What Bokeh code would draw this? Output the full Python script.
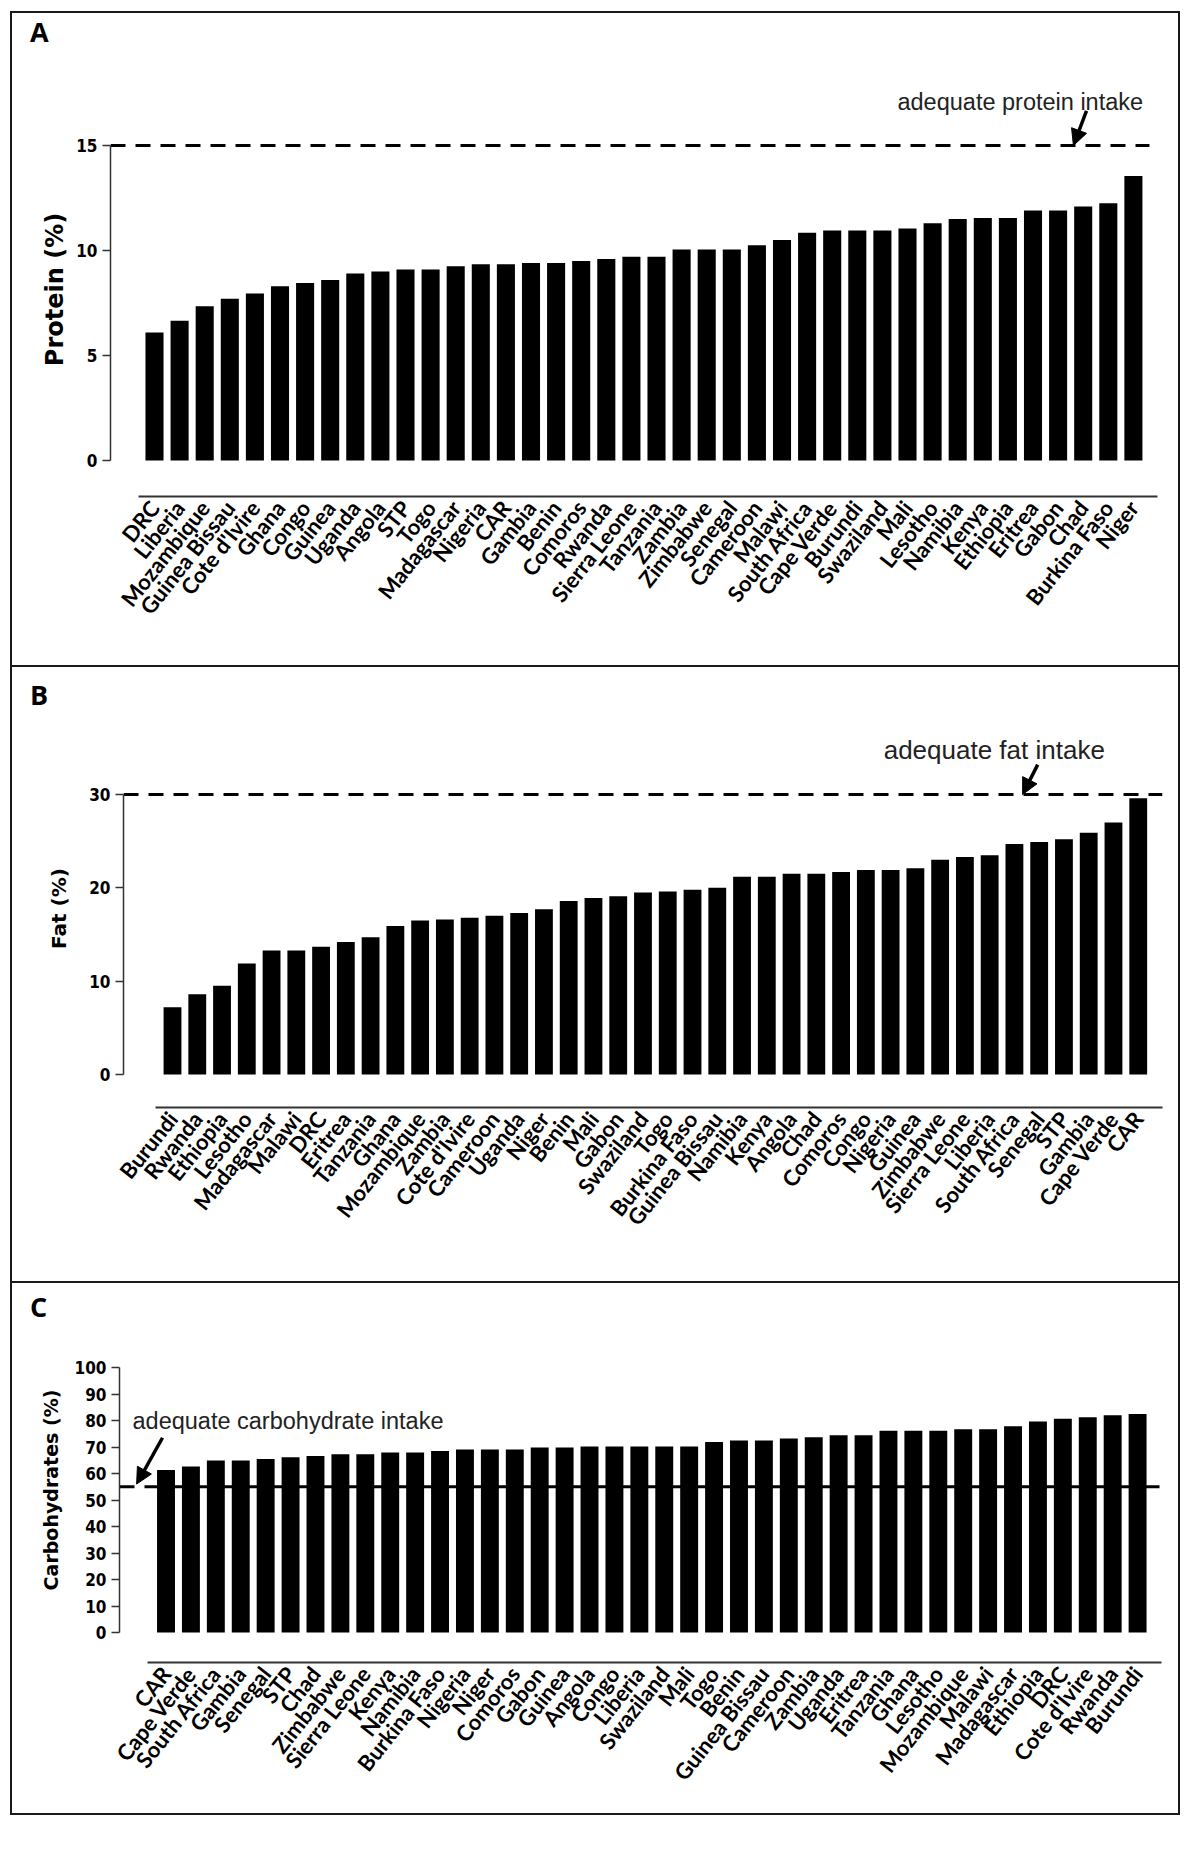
from bokeh.plotting import figure
from bokeh.models import Range1d, FixedTicker, Label, Arrow, NormalHead, ColumnDataSource, Div
from bokeh.layouts import column, row
from bokeh.embed import file_html
from bokeh.resources import INLINE

# ---------------- data ----------------
protein_countries = ["DRC", "Liberia", "Mozambique", "Guinea Bissau", "Cote d'Ivire", "Ghana", "Congo",
                     "Guinea", "Uganda", "Angola", "STP", "Togo", "Madagascar", "Nigeria", "CAR", "Gambia",
                     "Benin", "Comoros", "Rwanda", "Sierra Leone", "Tanzania", "Zambia", "Zimbabwe", "Senegal",
                     "Cameroon", "Malawi", "South Africa", "Cape Verde", "Burundi", "Swaziland", "Mali",
                     "Lesotho", "Namibia", "Kenya", "Ethiopia", "Eritrea", "Gabon", "Chad", "Burkina Faso", "Niger"]
protein_values = [6.1, 6.65, 7.35, 7.7, 7.95, 8.3, 8.45, 8.6, 8.9, 9.0, 9.1, 9.1, 9.25, 9.35, 9.35, 9.4,
                  9.4, 9.5, 9.6, 9.7, 9.7, 10.05, 10.05, 10.05, 10.25, 10.5, 10.85, 10.95, 10.95, 10.95, 11.05,
                  11.3, 11.5, 11.55, 11.55, 11.9, 11.9, 12.1, 12.25, 13.55]

fat_countries = ["Burundi", "Rwanda", "Ethiopia", "Lesotho", "Madagascar", "Malawi", "DRC", "Eritrea",
                 "Tanzania", "Ghana", "Mozambique", "Zambia", "Cote d'Ivire", "Cameroon", "Uganda", "Niger",
                 "Benin", "Mali", "Gabon", "Swaziland", "Togo", "Burkina Faso", "Guinea Bissau", "Namibia",
                 "Kenya", "Angola", "Chad", "Comoros", "Congo", "Nigeria", "Guinea", "Zimbabwe", "Sierra Leone",
                 "Liberia", "South Africa", "Senegal", "STP", "Gambia", "Cape Verde", "CAR"]
fat_values = [7.2, 8.6, 9.5, 11.9, 13.3, 13.3, 13.7, 14.2, 14.7, 15.9, 16.5, 16.6, 16.8, 17.0, 17.3, 17.7,
              18.6, 18.9, 19.1, 19.5, 19.6, 19.8, 20.0, 21.2, 21.2, 21.5, 21.5, 21.7, 21.9, 21.9, 22.1, 23.0,
              23.3, 23.5, 24.7, 24.9, 25.2, 25.9, 27.0, 29.6]

carb_countries = ["CAR", "Cape Verde", "South Africa", "Gambia", "Senegal", "STP", "Chad", "Zimbabwe",
                  "Sierra Leone", "Kenya", "Namibia", "Burkina Faso", "Nigeria", "Niger", "Comoros", "Gabon",
                  "Guinea", "Angola", "Congo", "Liberia", "Swaziland", "Mali", "Togo", "Benin", "Guinea Bissau",
                  "Cameroon", "Zambia", "Uganda", "Eritrea", "Tanzania", "Ghana", "Lesotho", "Mozambique",
                  "Malawi", "Madagascar", "Ethiopia", "DRC", "Cote d'Ivire", "Rwanda", "Burundi"]
carb_values = [61.3, 62.6, 64.9, 64.9, 65.5, 66.1, 66.6, 67.3, 67.3, 67.9, 67.9, 68.5, 69.1, 69.1, 69.1,
               69.8, 69.8, 70.2, 70.2, 70.2, 70.2, 70.2, 71.9, 72.5, 72.5, 73.2, 73.7, 74.4, 74.4, 76.1,
               76.1, 76.1, 76.7, 76.7, 77.8, 79.6, 80.7, 81.2, 82.0, 82.5]

protein_ticks = [0, 5, 10, 15]
fat_ticks = [0, 10, 20, 30]
carb_ticks = [0, 10, 20, 30, 40, 50, 60, 70, 80, 90, 100]

protein_target = 15
fat_target = 30
carb_target = 55

FRAME = "#1a1a1a"
TICK_FONT = "DejaVu Sans Condensed"
LABEL_FONT = "Lato"
LETTER_FONT = "Open Sans"
TITLE_FONT = "DejaVu Sans"
NOTE_FONT = "Liberation Sans"
W = 1166


def letter_div(letter, height, top, border=False):
    html = ('<div style="padding-left:18px; padding-top:%dpx; font-family:\'%s\'; font-weight:bold; '
            'font-size:27px; line-height:27px; color:black;">%s</div>' % (top, LETTER_FONT, letter))
    d = Div(text=html, width=W, height=height, margin=0)
    if border:
        d.styles = {"border-top": "2px solid " + FRAME}
    return d


def panel(countries, values, ticks, target, ylabel, ylabel_size, note, note_size,
          height, mb, xr, yr, xbounds, line_end, note_pos, arrow_pos, ylabel_standoff):
    p = figure(width=W, height=height, output_backend="svg", toolbar_location=None, title=None,
               x_range=Range1d(*xr), y_range=Range1d(*yr),
               min_border_left=mb[0], min_border_right=mb[1], min_border_top=mb[2], min_border_bottom=mb[3],
               background_fill_color="white", border_fill_color="white", outline_line_color=None)
    if "frame_align" in p.properties():
        p.frame_align = False
    p.xgrid.visible = False
    p.ygrid.visible = False

    src = ColumnDataSource(dict(x=list(range(len(countries))), top=values, name=countries))
    p.vbar(x="x", top="top", bottom=0, width=0.72, source=src, fill_color="black", line_color=None)

    p.segment(x0=[xr[0]], y0=[target], x1=[line_end], y1=[target], line_color="black",
              line_width=3, line_dash="15 10")

    # y axis
    ya = p.yaxis[0]
    ya.ticker = FixedTicker(ticks=ticks)
    ya.bounds = (ticks[0], ticks[-1])
    ya.axis_line_color = "#333333"
    ya.axis_line_width = 1.5
    ya.major_tick_line_color = "#333333"
    ya.major_tick_line_width = 1.5
    ya.major_tick_in = 0
    ya.major_tick_out = 8
    ya.minor_tick_in = 0
    ya.minor_tick_out = 0
    ya.major_label_standoff = 5
    ya.major_label_text_font = TICK_FONT
    ya.major_label_text_font_style = "bold"
    ya.major_label_text_font_size = "17px"
    ya.major_label_text_color = "black"
    ya.axis_label = ylabel
    ya.axis_label_text_font = TITLE_FONT
    ya.axis_label_text_font_style = "bold"
    ya.axis_label_text_font_size = ylabel_size
    ya.axis_label_text_color = "black"
    ya.axis_label_standoff = ylabel_standoff

    # x axis
    xa = p.xaxis[0]
    xa.ticker = FixedTicker(ticks=list(range(len(countries))))
    xa.major_label_overrides = {i: c for i, c in enumerate(countries)}
    xa.bounds = xbounds
    xa.axis_line_color = "#333333"
    xa.axis_line_width = 2
    xa.major_tick_in = 0
    xa.major_tick_out = 0
    xa.minor_tick_in = 0
    xa.minor_tick_out = 0
    xa.major_label_orientation = 0.9
    xa.major_label_standoff = 7
    xa.major_label_text_font = LABEL_FONT
    xa.major_label_text_font_style = "bold"
    xa.major_label_text_font_size = "22px"
    xa.major_label_text_color = "black"

    # annotation
    p.add_layout(Label(x=note_pos[0], y=note_pos[1], text=note, text_font=NOTE_FONT,
                       text_font_size=note_size, text_color="#222222", text_baseline="alphabetic"))
    p.add_layout(Arrow(end=NormalHead(size=16, fill_color="black", line_color="black", line_width=1),
                       x_start=arrow_pos[0], y_start=arrow_pos[1], x_end=arrow_pos[2], y_end=arrow_pos[3],
                       line_width=3.5, line_color="black"))
    return p


dA = letter_div("A", 40, 5)
pA = panel(protein_countries, protein_values, protein_ticks, protein_target, "Protein (%)", "24px",
           "adequate protein intake", "23.5px", 612, (98, 21, 29, 169),
           (-1.753, 39.96), (-1.714, 18.0), (-0.637, 39.96), 39.64,
           (29.6, 17.05), (37.13, 16.65, 36.61, 15.0), 4)

dB = letter_div("B", 44, 14, border=True)
pB = panel(fat_countries, fat_values, fat_ticks, fat_target, "Fat (%)", "20px",
           "adequate fat intake", "26px", 572, (111, 16, 0, 174),
           (-1.979, 39.98), (-3.536, 39.11), (-0.687, 39.98), 39.98,
           (28.72, 34.82), (34.94, 33.2, 34.33, 30.0), 15)

dC = letter_div("C", 36, 10, border=True)
pC = panel(carb_countries, carb_values, carb_ticks, carb_target, "Carbohydrates (%)", "19px",
           "adequate carbohydrate intake", "23.5px", 496, (107, 17, 0, 151),
           (-1.867, 39.96), (-11.32, 118.87), (-0.743, 39.96), 39.88,
           (-1.345, 79.95), (-0.14, 73.5, -1.18, 56.0), 10)

inner = column(dA, pA, dB, pB, dC, pC, styles={"border": "2px solid " + FRAME})
top_gap = Div(text="", width=10, height=11, margin=0)
left_gap = Div(text="", width=10, height=10, margin=0)
layout = column(top_gap, row(left_gap, inner))

open("out.html", "w").write(file_html(layout, INLINE))
